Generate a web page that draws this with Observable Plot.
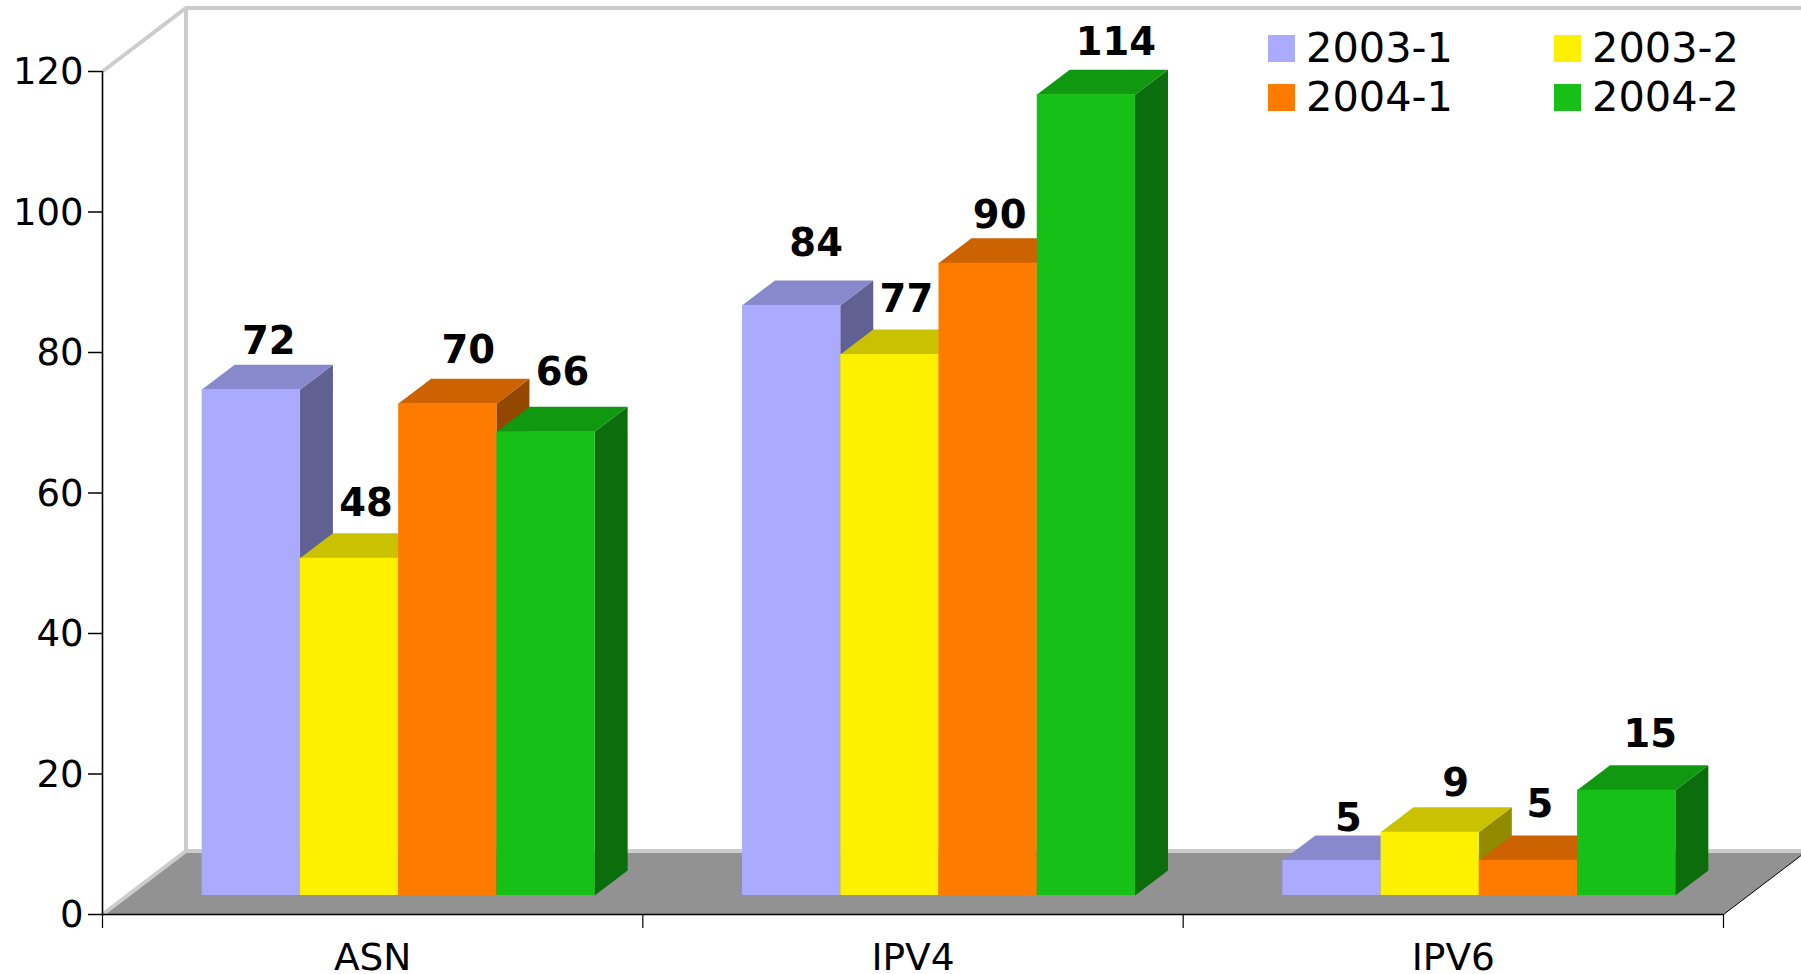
<!DOCTYPE html>
<html>
<head>
<meta charset="utf-8">
<script src="https://cdn.jsdelivr.net/npm/d3@7"></script>
<script src="https://cdn.jsdelivr.net/npm/@observablehq/plot@0.6"></script>
<style>
html,body{margin:0;padding:0;background:#fff;overflow:hidden}
svg{display:block}
</style>
</head>
<body>
<div id="chart"></div>
<script>
const categories = ["ASN", "IPV4", "IPV6"];
const seriesNames = ["2003-1", "2003-2", "2004-1", "2004-2"];
const values2003_1 = [72, 84, 5];
const values2003_2 = [48, 77, 9];
const values2004_1 = [70, 90, 5];
const values2004_2 = [66, 114, 15];
const allValues = [values2003_1, values2003_2, values2004_1, values2004_2];
const yTicks = [0, 20, 40, 60, 80, 100, 120];

const frontColors = ["#aaaaff", "#fdf100", "#ff7b00", "#16c016"];
const topColors = ["#8888cc", "#cac100", "#cc6200", "#109910"];
const sideColors = ["#606093", "#928b00", "#934700", "#0c6d0c"];

// Nudges of each value label, per series then category (px)
const labelNudgeX = [[1, 8, 0], [0, 0, 9], [4, -5, -5], [0, 13, 7]];
const labelNudgeY = [[0, -13, 7], [-6, -7, 0], [-5, 1, -7], [-11, -4, -7]];

const FONT = "'DejaVu Sans', Verdana, sans-serif";
const front = {dx: 26, dy: -19};    // bar base offset on the floor
const depth = {dx: 33, dy: -25};    // bar depth
const room = {dx: 83.5, dy: -63.5}; // floor / wall depth
const unitsPerBand = 5.5, groupInset = 0.75;

const bars = categories.flatMap((cat, c) => seriesNames.map((name, s) => ({
  cat, name, s, c,
  value: allValues[s][c],
  x1: c + (groupInset + s) / unitsPerBand,
  x2: c + (groupInset + s + 1) / unitsPerBand,
  ndx: labelNudgeX[s][c],
  ndy: labelNudgeY[s][c]
})));

function svgEl(tag, attrs, parent) {
  const e = document.createElementNS("http://www.w3.org/2000/svg", tag);
  for (const k in attrs) e.setAttribute(k, attrs[k]);
  if (parent) parent.appendChild(e);
  return e;
}
const poly = pts => pts.map(p => p.join(",")).join(" ");

// Floor and back wall, anchored on the library's scales
function roomMark(index, {x, y}) {
  const g = svgEl("g", {});
  const x0 = x(0) + 0.5, xe = x(3) + 0.5, y0 = y(0) + 0.5, yt = y(120) + 0.5;
  const bx = x0 + room.dx, by = y0 + room.dy, ty = yt + room.dy;
  svgEl("polygon", {points: poly([[x0, y0], [bx, by], [xe + room.dx, by], [xe, y0]]), fill: "#929292"}, g);
  svgEl("polyline", {points: poly([[x0, yt], [bx, ty], [1801, ty]]), fill: "none", stroke: "#cccccc", "stroke-width": 4}, g);
  svgEl("polyline", {points: poly([[x0, y0], [bx, by], [xe + room.dx, by]]), fill: "none", stroke: "#cccccc", "stroke-width": 4}, g);
  svgEl("line", {x1: bx, x2: bx, y1: ty, y2: by, stroke: "#cccccc", "stroke-width": 4}, g);
  svgEl("line", {x1: xe, y1: y0, x2: xe + room.dx, y2: by, stroke: "#000", "stroke-width": 1}, g);
  return g;
}

// Top and side faces of each bar, painted left to right
function facesMark(index, {x, y}) {
  const g = svgEl("g", {});
  for (const b of bars) {
    const l = x(b.x1) + front.dx, r = x(b.x2) + front.dx;
    const t = y(b.value) + front.dy + 0.5, base = y(0) + front.dy + 0.5;
    svgEl("polygon", {fill: sideColors[b.s], points: poly([[r, t], [r + depth.dx, t + depth.dy], [r + depth.dx, base + depth.dy], [r, base]])}, g);
    svgEl("polygon", {fill: topColors[b.s], points: poly([[l, t], [l + depth.dx, t + depth.dy], [r + depth.dx, t + depth.dy], [r, t]])}, g);
  }
  return g;
}

function legendMark() {
  const g = svgEl("g", {});
  seriesNames.forEach((name, i) => {
    const cx = 1268 + (i % 2) * 286, cy = 35 + Math.floor(i / 2) * 49;
    svgEl("rect", {x: cx, y: cy, width: 27, height: 27, fill: frontColors[i]}, g);
    const t = svgEl("text", {x: cx + 38, y: cy + 27, "font-size": 41.5, "font-family": FONT, fill: "#000", "text-anchor": "start"}, g);
    t.textContent = name;
  });
  return g;
}

const labelMarks = bars.map(b => Plot.text([b], {
  x: d => (d.x1 + d.x2) / 2,
  y: "value",
  text: d => String(d.value),
  dx: front.dx + depth.dx / 2 + b.ndx,
  dy: front.dy + depth.dy - 11 + b.ndy,
  fontSize: 38.5,
  fontWeight: "bold",
  fontFamily: FONT,
  fill: "#000",
  textAnchor: "middle",
  lineAnchor: "bottom"
}));

const plot = Plot.plot({
  width: 1801,
  height: 974,
  marginLeft: 102,
  marginRight: 78,
  marginTop: 71,
  marginBottom: 60,
  style: {background: "#fff", fontFamily: FONT, color: "#000", overflow: "hidden"},
  x: {type: "linear", domain: [0, 3]},
  y: {type: "linear", domain: [0, 120]},
  marks: [
    roomMark,
    facesMark,
    Plot.rect(bars, {
      x1: "x1", x2: "x2", y1: 0, y2: "value",
      fill: d => frontColors[d.s],
      dx: front.dx, dy: front.dy
    }),
    Plot.axisY({ticks: yTicks, tickSize: 14, tickFormat: () => "", label: null, stroke: "#000", strokeWidth: 1.5}),
    Plot.axisY({ticks: yTicks, tickSize: 0, tickPadding: 19, dy: 1, fontSize: 37, label: null, fill: "#000", fontFamily: FONT}),
    Plot.axisX({ticks: [0, 1, 2, 3], tickSize: 14, tickFormat: () => "", label: null, stroke: "#000", strokeWidth: 1.2}),
    Plot.axisX({ticks: categories.map((c, i) => i + 0.5), tickSize: 0, tickPadding: 29, tickFormat: t => categories[Math.floor(t)], fontSize: 37.5, label: null, fill: "#000", fontFamily: FONT}),
    Plot.ruleX([0], {stroke: "#000", strokeWidth: 1.6}),
    Plot.ruleY([0], {stroke: "#000", strokeWidth: 1.6}),
    ...labelMarks,
    legendMark
  ]
});
document.getElementById("chart").appendChild(plot);
</script>
</body>
</html>
